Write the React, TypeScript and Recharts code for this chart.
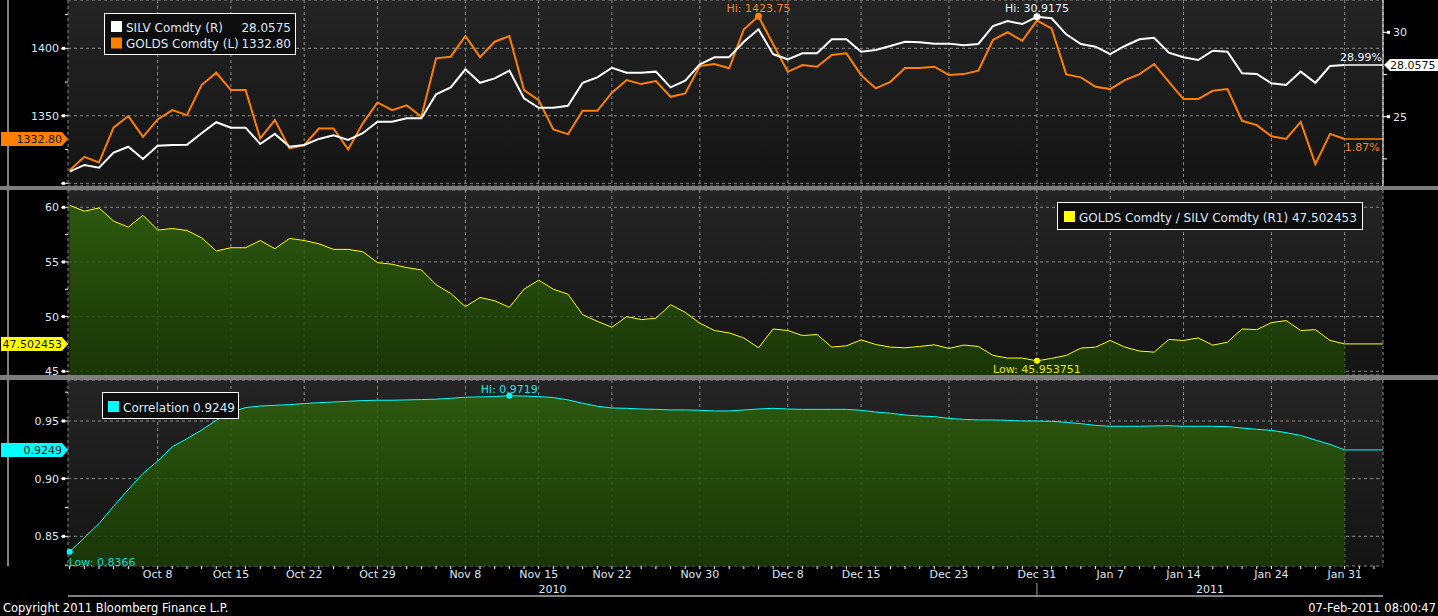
import React from 'react';
import {
  ComposedChart,
  Line,
  Area,
  XAxis,
  YAxis,
  CartesianGrid,
  ReferenceLine,
  ReferenceDot,
} from 'recharts';

// ---------- DATA ----------
const dates: string[] = [
  'Sep 30',
  'Oct 1', 'Oct 4', 'Oct 5', 'Oct 6', 'Oct 7', 'Oct 8', 'Oct 11', 'Oct 12', 'Oct 13', 'Oct 14', 'Oct 15',
  'Oct 18', 'Oct 19', 'Oct 20', 'Oct 21', 'Oct 22', 'Oct 25', 'Oct 26', 'Oct 27', 'Oct 28', 'Oct 29',
  'Nov 1', 'Nov 2', 'Nov 3', 'Nov 4', 'Nov 5', 'Nov 8', 'Nov 9', 'Nov 10', 'Nov 11', 'Nov 12',
  'Nov 15', 'Nov 16', 'Nov 17', 'Nov 18', 'Nov 19', 'Nov 22', 'Nov 23', 'Nov 24', 'Nov 25', 'Nov 26',
  'Nov 29', 'Nov 30',
  'Dec 1', 'Dec 2', 'Dec 3', 'Dec 6', 'Dec 7', 'Dec 8', 'Dec 9', 'Dec 10', 'Dec 13', 'Dec 14',
  'Dec 15', 'Dec 16', 'Dec 17', 'Dec 20', 'Dec 21', 'Dec 22', 'Dec 23', 'Dec 24', 'Dec 27', 'Dec 28',
  'Dec 29', 'Dec 30', 'Dec 31',
  'Jan 3', 'Jan 4', 'Jan 5', 'Jan 6', 'Jan 7', 'Jan 10', 'Jan 11', 'Jan 12', 'Jan 13', 'Jan 14',
  'Jan 17', 'Jan 18', 'Jan 19', 'Jan 20', 'Jan 21', 'Jan 24', 'Jan 25', 'Jan 26', 'Jan 27', 'Jan 28',
  'Jan 31',
];
const futureDates: string[] = ['Feb 1', 'Feb 2'];

const tickLabels: string[] = [
  'Oct 8', 'Oct 15', 'Oct 22', 'Oct 29', 'Nov 8', 'Nov 15', 'Nov 22', 'Nov 30',
  'Dec 8', 'Dec 15', 'Dec 23', 'Dec 31', 'Jan 7', 'Jan 14', 'Jan 24', 'Jan 31',
];
const yearLabels: string[] = ['2010', '2011'];
const yearBoundaryDate = 'Dec 31';

const gold: number[] = [
  1309.7, 1319.6, 1315.4, 1341.4, 1349.8, 1334.4, 1347.3, 1354.2, 1350.5, 1372.8,
  1381.9, 1369.1, 1369.1, 1333.2, 1346.8, 1325.8, 1328.3, 1340.6, 1340.6, 1325.1,
  1344.4, 1359.9, 1354.2, 1357.7, 1349.3, 1392.6, 1393.8, 1409.1, 1393.5, 1404.9,
  1409.1, 1369.1, 1361.6, 1339.9, 1336.4, 1353.7, 1353.7, 1367.1, 1376.5, 1373.5,
  1375.7, 1364.1, 1366.6, 1386.9, 1388.4, 1385.2, 1414.1, 1423.75, 1403.0, 1382.6,
  1387.6, 1386.4, 1395.0, 1396.3, 1380.2, 1370.3, 1375.2, 1385.4, 1385.4, 1386.4,
  1380.2, 1380.9, 1383.4, 1406.2, 1411.9, 1405.6, 1420.5, 1414.8, 1380.7, 1378.5,
  1371.5, 1369.8, 1376.5, 1380.9, 1388.4, 1375.2, 1362.4, 1362.4, 1368.5, 1369.8,
  1346.3, 1343.1, 1334.9, 1332.9, 1345.5, 1314.2, 1336.6, 1332.8,
];

const silver: number[] = [
  21.74, 22.14, 21.98, 22.87, 23.22, 22.49, 23.28, 23.32, 23.34, 24.02,
  24.67, 24.35, 24.35, 23.38, 23.98, 23.22, 23.32, 23.68, 23.9, 23.62,
  24.02, 24.7, 24.7, 24.9, 24.9, 26.33, 26.74, 27.81, 27.01, 27.27,
  27.73, 26.09, 25.53, 25.53, 25.65, 27.01, 27.33, 27.9, 27.61, 27.61,
  27.67, 26.74, 27.13, 28.1, 28.52, 28.52, 29.44, 30.18, 28.7, 28.4,
  28.76, 28.76, 29.59, 29.59, 28.85, 28.95, 29.19, 29.44, 29.41, 29.33,
  29.33, 29.23, 29.31, 30.37, 30.67, 30.49, 30.9175, 30.83, 29.88, 29.31,
  29.15, 28.71, 29.19, 29.59, 29.68, 28.79, 28.52, 28.36, 28.91, 28.85,
  27.57, 27.53, 26.98, 26.88, 27.67, 27.01, 28.0, 28.0575,
];

const ratio: number[] = [
  60.18, 59.64, 59.94, 58.73, 58.18, 59.27, 57.91, 58.06, 57.88, 57.21,
  56.0, 56.3, 56.3, 56.96, 56.21, 57.15, 56.96, 56.66, 56.15, 56.15,
  55.94, 54.94, 54.79, 54.48, 54.27, 52.91, 52.12, 50.91, 51.75, 51.45,
  50.85, 52.51, 53.33, 52.51, 52.05, 50.18, 49.57, 49.03, 50.0, 49.73,
  49.85, 51.09, 50.39, 49.39, 48.73, 48.51, 48.05, 47.15, 48.87, 48.73,
  48.27, 48.36, 47.21, 47.33, 47.87, 47.45, 47.21, 47.15, 47.27, 47.42,
  47.09, 47.4, 47.27, 46.45, 46.21, 46.21, 45.953751, 46.18, 46.45, 47.12,
  47.21, 47.82, 47.21, 46.85, 46.75, 47.91, 47.82, 48.05, 47.39, 47.66,
  48.87, 48.81, 49.45, 49.64, 48.73, 48.81, 47.82, 47.502453,
];

const corr: number[] = [
  0.8366, 0.8489, 0.861, 0.8761, 0.8906, 0.9045, 0.9152, 0.9277, 0.9346, 0.9422,
  0.9506, 0.9578, 0.9616, 0.963, 0.9636, 0.9642, 0.9651, 0.9659, 0.9665, 0.9671,
  0.9677, 0.968, 0.968, 0.9683, 0.9686, 0.9689, 0.9697, 0.9706, 0.9709, 0.9712,
  0.9719, 0.9716, 0.9712, 0.9703, 0.9683, 0.9654, 0.9628, 0.9613, 0.961, 0.9604,
  0.9601, 0.9596, 0.9596, 0.9593, 0.9587, 0.9587, 0.9596, 0.9604, 0.961, 0.9604,
  0.9601, 0.9601, 0.9601, 0.9601, 0.9593, 0.9578, 0.9567, 0.9552, 0.9543, 0.9538,
  0.9523, 0.9514, 0.9509, 0.9509, 0.9506, 0.95, 0.95, 0.9497, 0.9488, 0.9477,
  0.9462, 0.9454, 0.9454, 0.9454, 0.9457, 0.9459, 0.9454, 0.9454, 0.9454, 0.9451,
  0.9439, 0.9428, 0.9419, 0.9399, 0.9375, 0.9335, 0.9297, 0.9249,
];

const goldLastText = '1332.80';
const silverLastText = '28.0575';
const ratioLastText = '47.502453';
const corrLastText = '0.9249';
const goldChangeText = '1.87%';
const silverChangeText = '28.99%';

// ---------- DERIVED ----------
const rows = dates.map((d, i) => ({
  i,
  date: d,
  gold: gold[i],
  silver: silver[i],
  ratio: ratio[i],
  corr: corr[i],
}));
const LAST = dates.length - 1;
const X_MIN = -0.116;
const X_MAX = 89.615;
const majorIdx = tickLabels.map((t) => dates.indexOf(t));
const allTickIdx = [...dates, ...futureDates].map((_, i) => i);
const yearBoundary = dates.indexOf(yearBoundaryDate);
const yearTicks = [(X_MIN + yearBoundary) / 2, (yearBoundary + X_MAX) / 2];

const argMax = (a: number[]) => a.indexOf(Math.max(...a));
const argMin = (a: number[]) => a.indexOf(Math.min(...a));
const goldHi = argMax(gold);
const silverHi = argMax(silver);
const ratioLo = argMin(ratio);
const corrHi = argMax(corr);
const corrLo = argMin(corr);

// ---------- STYLE / LAYOUT ----------
const FONT = "'DejaVu Sans', Verdana, sans-serif";
const AX = '#dde7f5';
const ORANGE = '#ff8000';
const YELLOW = '#ffff00';
const CYAN = '#00ffff';
const GRID = '#8a8a8a';
const W = 1438;
const AXIS_LEFT_X = 68; // left axis line position (layout)
const BOT_PLOT_H = 186; // bottom panel plot height (layout)

// ---------- HELPERS ----------
const lbl =
  (text: string, color: string, dx: number, dy: number, anchor: 'start' | 'middle' | 'end' = 'middle', size = 11) =>
  (props: any) => {
    const vb = props.viewBox || {};
    const cx = (vb.x || 0) + (vb.width || 0) / 2;
    const cy = (vb.y || 0) + (vb.height || 0) / 2;
    return (
      <text x={cx + dx} y={cy + dy} textAnchor={anchor} fill={color} fontFamily={FONT} fontSize={size}>
        {text}
      </text>
    );
  };

const leftTick =
  (gridVals: number[], labelVals: number[], tagVal: number, tagText: string, tagColor: string, fmt: (v: number) => string) =>
  (props: any) => {
    const { y, payload } = props;
    const x = AXIS_LEFT_X;
    const v = payload.value;
    if (v === tagVal) {
      return (
        <g>
          <polygon
            points={`${x - 67},${y - 7} ${x - 6},${y - 7} ${x},${y} ${x - 6},${y + 7} ${x - 67},${y + 7}`}
            fill={tagColor}
          />
          <text x={x - 6} y={y + 4} textAnchor="end" fill="#151515" fontFamily={FONT} fontSize={11}>
            {tagText}
          </text>
        </g>
      );
    }
    const major = gridVals.includes(v);
    return (
      <g>
        <line x1={x - (major ? 7 : 3)} x2={x} y1={y} y2={y} stroke="#fff" strokeWidth={1} />
        {major && <rect x={x - 6} y={y - 1.5} width={3} height={3} fill="#fff" />}
        {labelVals.includes(v) && (
          <text x={x - 9} y={y + 4} textAnchor="end" fill={AX} fontFamily={FONT} fontSize={11}>
            {fmt(v)}
          </text>
        )}
      </g>
    );
  };

const rightTick = (props: any) => {
  const { x, y, payload } = props;
  const v = payload.value;
  if (v === silver[LAST]) {
    return (
      <g>
        <polygon
          points={`${x + 1},${y} ${x + 7},${y - 6} ${x + 55},${y - 6} ${x + 55},${y + 6} ${x + 7},${y + 6}`}
          fill="#ffffff"
        />
        <text x={x + 7} y={y + 4} fill="#101010" fontFamily={FONT} fontSize={11}>
          {silverLastText}
        </text>
      </g>
    );
  }
  const major = v === 25 || v === 30;
  return (
    <g>
      <line x1={x} x2={x + (major ? 7 : 4)} y1={y} y2={y} stroke="#fff" strokeWidth={1} />
      {major && <rect x={x + 4} y={y - 1.5} width={3} height={3} fill="#fff" />}
      {major && (
        <text x={x + 10} y={y + 4} fill={AX} fontFamily={FONT} fontSize={11}>
          {String(v)}
        </text>
      )}
    </g>
  );
};

const dateTick = (props: any) => {
  const { x, payload } = props;
  const y = BOT_PLOT_H;
  const idx = payload.value;
  const k = majorIdx.indexOf(idx);
  return (
    <g>
      <line x1={x} x2={x} y1={y} y2={y + 3} stroke="#fff" strokeWidth={1} />
      {k >= 0 && (
        <text x={x} y={y + 12} textAnchor="middle" fill={AX} fontFamily={FONT} fontSize={11}>
          {tickLabels[k]}
        </text>
      )}
    </g>
  );
};

const yearTick = (props: any) => {
  const { x, payload } = props;
  const y = BOT_PLOT_H + 16;
  const v = payload.value;
  if (v === yearBoundary) {
    return <line x1={x} x2={x} y1={y + 1} y2={y + 15} stroke="#9a9a9a" strokeWidth={1} />;
  }
  const k = yearTicks.indexOf(v);
  return (
    <text x={x} y={y + 11} textAnchor="middle" fill={AX} fontFamily={FONT} fontSize={11}>
      {yearLabels[k]}
    </text>
  );
};

// ---------- PANELS ----------
const GOLD_DOMAIN: [number, number] = [1298.0, 1435.8];
const SILV_DOMAIN: [number, number] = [20.891, 31.916];
const RATIO_DOMAIN: [number, number] = [44.66, 61.58];
const CORR_DOMAIN: [number, number] = [0.82428, 0.98555];

function TopChart() {
  return (
    <ComposedChart width={W} height={186} data={rows} margin={{ top: 0, right: 0, bottom: 0, left: 0 }}>
      <CartesianGrid yAxisId="grid" stroke={GRID} strokeDasharray="3 3" fill="url(#panelBg)" />
      <XAxis dataKey="i" type="number" domain={[X_MIN, X_MAX]} allowDataOverflow ticks={majorIdx} interval={0} hide />
      <YAxis
        yAxisId="left"
        type="number"
        domain={GOLD_DOMAIN}
        allowDataOverflow
        ticks={[1300, 1325, 1350, 1375, 1400, 1425, gold[LAST]]}
        interval={0}
        width={68}
        tickSize={0}
        tickMargin={0}
        tickLine={false}
        axisLine={{ stroke: '#ffffff' }}
        tick={leftTick([1300, 1350, 1400], [1350, 1400], gold[LAST], goldLastText, ORANGE, (v) => String(v))}
      />
      <YAxis
        yAxisId="right"
        orientation="right"
        type="number"
        domain={SILV_DOMAIN}
        allowDataOverflow
        ticks={[22.5, 25, 27.5, 30, silver[LAST]]}
        interval={0}
        width={55}
        tickSize={0}
        tickMargin={0}
        tickLine={false}
        axisLine={{ stroke: '#ffffff' }}
        tick={rightTick}
      />
      <YAxis yAxisId="grid" type="number" domain={GOLD_DOMAIN} allowDataOverflow ticks={[1300, 1350, 1400]} interval={0} hide />
      <Line yAxisId="left" type="linear" dataKey="gold" stroke={ORANGE} strokeWidth={2} dot={false} activeDot={false} isAnimationActive={false} />
      <Line yAxisId="right" type="linear" dataKey="silver" stroke="#ffffff" strokeWidth={2} dot={false} activeDot={false} isAnimationActive={false} />
      <ReferenceLine
        yAxisId="left"
        segment={[{ x: LAST, y: gold[LAST] }, { x: X_MAX, y: gold[LAST] }]}
        stroke={ORANGE}
        strokeWidth={1.5}
      />
      <ReferenceLine
        yAxisId="right"
        segment={[{ x: LAST, y: silver[LAST] }, { x: X_MAX, y: silver[LAST] }]}
        stroke="#ffffff"
        strokeWidth={1.5}
      />
      <ReferenceDot yAxisId="left" x={goldHi} y={gold[goldHi]} r={3.5} fill={ORANGE} stroke="none"
        label={lbl('Hi: 1423.75', '#f5841f', 0, -4)} />
      <ReferenceDot yAxisId="right" x={silverHi} y={silver[silverHi]} r={3.5} fill="#ffffff" stroke="none"
        label={lbl('Hi: 30.9175', '#e8eef8', 0, -5)} />
      <ReferenceDot yAxisId="left" x={LAST} y={gold[LAST]} r={0} fill="none" stroke="none"
        label={lbl(goldChangeText, '#f5841f', 0, 12, 'start')} />
      <ReferenceDot yAxisId="right" x={X_MAX} y={silver[LAST]} r={0} fill="none" stroke="none"
        label={lbl(silverChangeText, '#eef3fb', -1, -4, 'end')} />
    </ComposedChart>
  );
}

function MidChart() {
  return (
    <ComposedChart width={W} height={190} data={rows} margin={{ top: 0, right: 55, bottom: 5, left: 0 }}>
      <CartesianGrid yAxisId="grid" stroke={GRID} strokeDasharray="3 3" fill="url(#panelBg)" />
      <XAxis dataKey="i" type="number" domain={[X_MIN, X_MAX]} allowDataOverflow ticks={majorIdx} interval={0} hide />
      <YAxis
        yAxisId="left"
        type="number"
        domain={RATIO_DOMAIN}
        allowDataOverflow
        ticks={[45, 47.5, 50, 52.5, 55, 57.5, 60, ratio[LAST]]}
        interval={0}
        width={68}
        tickSize={0}
        tickMargin={0}
        tickLine={false}
        axisLine={{ stroke: '#ffffff' }}
        tick={leftTick([45, 50, 55, 60], [45, 50, 55, 60], ratio[LAST], ratioLastText, YELLOW, (v) => String(v))}
      />
      <YAxis yAxisId="grid" type="number" domain={RATIO_DOMAIN} allowDataOverflow ticks={[45, 50, 55, 60]} interval={0} hide />
      <Area
        yAxisId="left"
        type="linear"
        dataKey="ratio"
        stroke={YELLOW}
        strokeWidth={1}
        fill="url(#greenFill)"
        fillOpacity={0.88}
        dot={false}
        activeDot={false}
        isAnimationActive={false}
      />
      <ReferenceLine
        yAxisId="left"
        segment={[{ x: LAST, y: ratio[LAST] }, { x: X_MAX, y: ratio[LAST] }]}
        stroke={YELLOW}
        strokeWidth={1}
      />
      <ReferenceDot yAxisId="left" x={ratioLo} y={ratio[ratioLo]} r={3} fill={YELLOW} stroke="none"
        label={lbl('Low: 45.953751', '#e6e600', 0, 12.5)} />
    </ComposedChart>
  );
}

function BotChart() {
  return (
    <ComposedChart width={W} height={236} data={rows} margin={{ top: 0, right: 55, bottom: 0, left: 0 }}>
      <CartesianGrid xAxisId="grid" yAxisId="grid" stroke={GRID} strokeDasharray="3 3" fill="url(#panelBg)" />
      <XAxis
        xAxisId="main"
        dataKey="i"
        type="number"
        domain={[X_MIN, X_MAX]}
        allowDataOverflow
        ticks={allTickIdx}
        interval={0}
        height={16}
        tickSize={0}
        tickMargin={0}
        tickLine={false}
        axisLine={{ stroke: '#ffffff' }}
        tick={dateTick}
      />
      <XAxis
        xAxisId="year"
        dataKey="i"
        type="number"
        domain={[X_MIN, X_MAX]}
        allowDataOverflow
        ticks={[...yearTicks, yearBoundary]}
        interval={0}
        height={34}
        tickSize={0}
        tickMargin={0}
        tickLine={false}
        axisLine={false}
        tick={yearTick}
      />
      <XAxis xAxisId="grid" dataKey="i" type="number" domain={[X_MIN, X_MAX]} allowDataOverflow ticks={majorIdx} interval={0} hide />
      <YAxis
        yAxisId="left"
        type="number"
        domain={CORR_DOMAIN}
        allowDataOverflow
        ticks={[0.825, 0.85, 0.875, 0.9, 0.925, 0.95, 0.975, corr[LAST]]}
        interval={0}
        width={68}
        tickSize={0}
        tickMargin={0}
        tickLine={false}
        axisLine={{ stroke: '#ffffff' }}
        tick={leftTick([0.85, 0.9, 0.95], [0.85, 0.9, 0.95], corr[LAST], corrLastText, CYAN, (v) => v.toFixed(2))}
      />
      <YAxis yAxisId="grid" type="number" domain={CORR_DOMAIN} allowDataOverflow ticks={[0.85, 0.9, 0.95]} interval={0} hide />
      <Area
        xAxisId="main"
        yAxisId="left"
        type="linear"
        dataKey="corr"
        stroke={CYAN}
        strokeWidth={1}
        fill="url(#greenFill)"
        fillOpacity={0.88}
        dot={false}
        activeDot={false}
        isAnimationActive={false}
      />
      <ReferenceLine
        xAxisId="main"
        yAxisId="left"
        segment={[{ x: LAST, y: corr[LAST] }, { x: X_MAX, y: corr[LAST] }]}
        stroke={CYAN}
        strokeWidth={1}
      />
      <ReferenceDot xAxisId="main" yAxisId="left" x={corrHi} y={corr[corrHi]} r={3} fill={CYAN} stroke="none"
        label={lbl('Hi: 0.9719', '#19e6e6', 0, -3)} />
      <ReferenceDot xAxisId="main" yAxisId="left" x={corrLo} y={corr[corrLo]} r={3} fill={CYAN} stroke="none"
        label={lbl('Low: 0.8366', '#19d9d9', -1, 14, 'start')} />
    </ComposedChart>
  );
}

export default function App() {
  const t = { fontFamily: FONT, fill: AX } as const;
  return (
    <div style={{ position: 'absolute', left: 0, top: 0, width: W, height: 616, background: '#000', overflow: 'hidden' }}>
      <svg width={0} height={0} style={{ position: 'absolute' }}>
        <defs>
          <linearGradient id="panelBg" x1="0" y1="0" x2="0" y2="1">
            <stop offset="0" stopColor="#242424" />
            <stop offset="1" stopColor="#141414" />
          </linearGradient>
          <linearGradient id="greenFill" x1="0" y1="0" x2="0" y2="1">
            <stop offset="0" stopColor="#2e600c" />
            <stop offset="1" stopColor="#1b3a05" />
          </linearGradient>
        </defs>
      </svg>
      <div style={{ position: 'absolute', left: 0, top: 0 }}>
        <TopChart />
      </div>
      <div style={{ position: 'absolute', left: 0, top: 190 }}>
        <MidChart />
      </div>
      <div style={{ position: 'absolute', left: 0, top: 380 }}>
        <BotChart />
      </div>
      <div style={{ position: 'absolute', left: 0, top: 186, width: W, height: 4, background: '#7d7d7d' }} />
      <div style={{ position: 'absolute', left: 0, top: 375, width: W, height: 5, background: '#7d7d7d' }} />
      <svg width={W} height={616} style={{ position: 'absolute', left: 0, top: 0, pointerEvents: 'none' }}>
        {/* top legend */}
        <rect x={104.5} y={13.5} width={191} height={41} fill="#0d0d0d" stroke="#ffffff" strokeWidth={1} />
        <rect x={111} y={21} width={11} height={11} fill="#ffffff" />
        <text x={126} y={31.5} fontSize={12} {...t}>SILV Comdty (R)</text>
        <text x={291} y={31.5} fontSize={12} textAnchor="end" {...t}>{silverLastText}</text>
        <rect x={111} y={37.5} width={11} height={11} fill={ORANGE} />
        <text x={126} y={48} fontSize={12} {...t}>GOLDS Comdty (L)</text>
        <text x={291} y={48} fontSize={12} textAnchor="end" {...t}>{goldLastText}</text>
        {/* middle legend */}
        <rect x={1057.5} y={202.5} width={305} height={27} fill="#0d0d0d" stroke="#ffffff" strokeWidth={1} />
        <rect x={1064} y={211} width={11} height={11} fill={YELLOW} />
        <text x={1079} y={221.5} fontSize={12} {...t}>{`GOLDS Comdty / SILV Comdty (R1) ${ratioLastText}`}</text>
        {/* bottom legend */}
        <rect x={102.5} y={392.5} width={136} height={26} fill="#0d0d0d" stroke="#ffffff" strokeWidth={1} />
        <rect x={108} y={401} width={11} height={11} fill={CYAN} />
        <text x={123} y={411.5} fontSize={12} {...t}>{`Correlation ${corrLastText}`}</text>
        {/* footer */}
        <text x={3} y={612} fontSize={11.5} fontFamily={FONT} fill="#ffffff">Copyright 2011 Bloomberg Finance L.P.</text>
        <text x={1436} y={612} fontSize={11.5} fontFamily={FONT} fill="#ffffff" textAnchor="end">07-Feb-2011 08:00:47</text>
      </svg>
    </div>
  );
}
